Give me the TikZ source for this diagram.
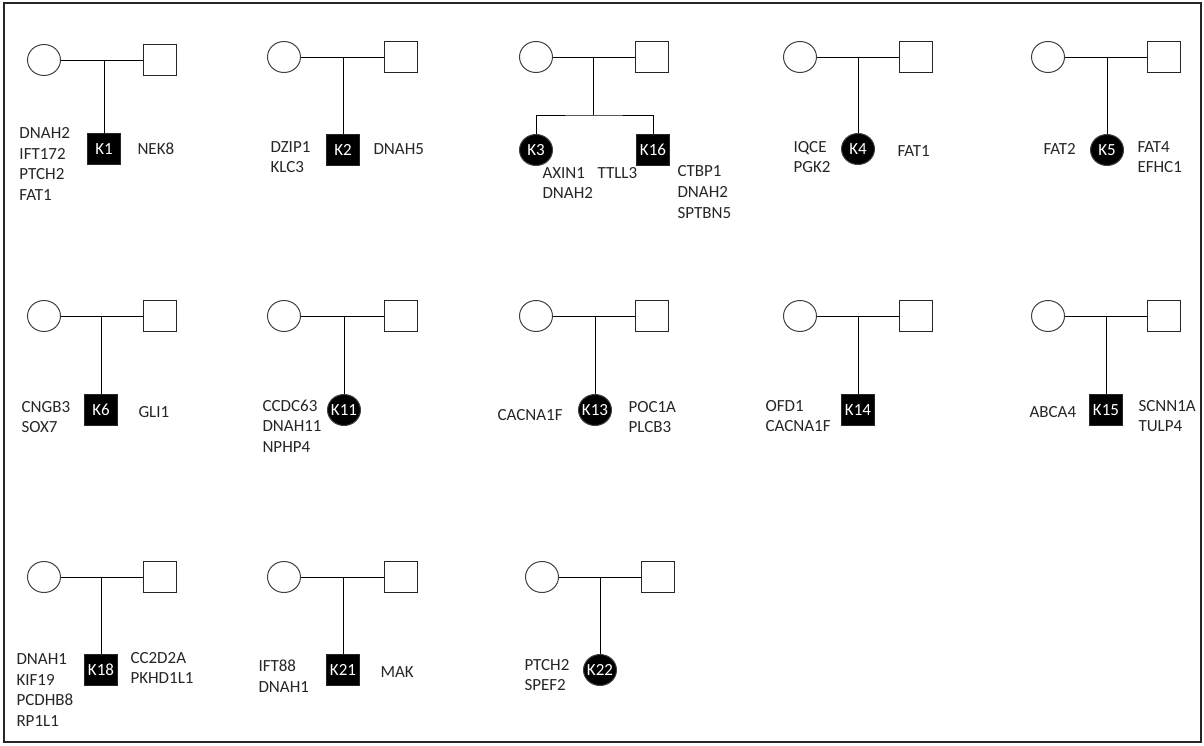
\documentclass[tikz,border=0pt]{standalone}
\usepackage{fontspec}
\setmainfont{Carlito}
\usetikzlibrary{shapes.geometric,positioning}
\newcommand{\genefont}{\fontsize{17}{20.7}\selectfont}
\newcommand{\kid}[1]{\makebox[0pt]{#1}}

\begin{document}
\begin{tikzpicture}[x=1pt, y=-1pt, line width=1pt,
    female/.style={draw=black!75, ellipse, minimum width=33pt, minimum height=31pt, inner sep=0pt},
    male/.style={draw=black!85, rectangle, minimum width=33pt, minimum height=31pt, inner sep=0pt},
    affected/.style={fill=black, text=white, font=\genefont},
    gene/.style={align=left, inner sep=0pt, anchor=west, font=\genefont, text=black!85}
]
\useasboundingbox (0,0) rectangle (1204,745);
\draw[line width=1.6pt, black!85] (4,3) rectangle (1201,742);

% row 1
\node[female] (m1) at (44,60) {};
\node[male] (d1) at (160,60) {};
\node[male, affected] (k1) at (104,149) {\kid{K1}};
\node[gene] (k1l) at (19,164) {DNAH2\\IFT172\\PTCH2\\FAT1};
\node[gene] (k1r) at (137,149) {NEK8};

\node[female] (m2) at (284,57) {};
\node[male] (d2) at (401,57) {};
\node[male, affected] (k2) at (343,150) {\kid{K2}};
\node[gene] (k2l) at (270,157) {DZIP1\\KLC3};
\node[gene] (k2r) at (373,149) {DNAH5};

\node[female] (m3) at (536,57) {};
\node[male] (d3) at (652,57) {};
\coordinate (s3) at (593,115);
\node[female, affected] (k3) at (536,150) {\kid{K3}};
\node[male, affected] (k16) at (653,150) {\kid{K16}};
\node[gene] (k3l) at (542,183) {AXIN1\\DNAH2};
\node[gene] (k3r) at (597,173) {TTLL3};
\node[gene] (k16r) at (677,192) {CTBP1\\DNAH2\\SPTBN5};

\node[female] (m4) at (800,57) {};
\node[male] (d4) at (916,57) {};
\node[female, affected] (k4) at (858,149) {\kid{K4}};
\node[gene] (k4l) at (793,157) {IQCE\\PGK2};
\node[gene] (k4r) at (897,151) {FAT1};

\node[female] (m5) at (1048,57) {};
\node[male] (d5) at (1164,57) {};
\node[female, affected] (k5) at (1107,150) {\kid{K5}};
\node[gene] (k5l) at (1043,149) {FAT2};
\node[gene] (k5r) at (1137,157) {FAT4\\EFHC1};

% row 2
\node[female] (m6) at (44,316) {};
\node[male] (d6) at (160,316) {};
\node[male, affected] (k6) at (101,410) {\kid{K6}};
\node[gene] (k6l) at (21,417) {CNGB3\\SOX7};
\node[gene] (k6r) at (138,412) {GLI1};

\node[female] (m11) at (284,316) {};
\node[male] (d11) at (401,316) {};
\node[female, affected] (k11) at (344,410) {\kid{K11}};
\node[gene] (k11l) at (262,426) {CCDC63\\DNAH11\\NPHP4};

\node[female] (m13) at (536,316) {};
\node[male] (d13) at (652,316) {};
\node[female, affected] (k13) at (595,410) {\kid{K13}};
\node[gene] (k13l) at (497,415) {CACNA1F};
\node[gene] (k13r) at (628,417) {POC1A\\PLCB3};

\node[female] (m14) at (800,316) {};
\node[male] (d14) at (916,316) {};
\node[male, affected] (k14) at (858,410) {\kid{K14}};
\node[gene] (k14l) at (765,416) {OFD1\\CACNA1F};

\node[female] (m15) at (1048,316) {};
\node[male] (d15) at (1164,316) {};
\node[male, affected] (k15) at (1106,410) {\kid{K15}};
\node[gene] (k15l) at (1029,412) {ABCA4};
\node[gene] (k15r) at (1138,416) {SCNN1A\\TULP4};

% row 3
\node[female] (m18) at (44,577) {};
\node[male] (d18) at (160,577) {};
\node[male, affected] (k18) at (101,670) {\kid{K18}};
\node[gene] (k18l) at (16,690) {DNAH1\\KIF19\\PCDHB8\\RP1L1};
\node[gene] (k18r) at (130,668) {CC2D2A\\PKHD1L1};

\node[female] (m21) at (284,577) {};
\node[male] (d21) at (401,577) {};
\node[male, affected] (k21) at (343,670) {\kid{K21}};
\node[gene] (k21l) at (258,676) {IFT88\\DNAH1};
\node[gene] (k21r) at (380,672) {MAK};

\node[female] (m22) at (542,577) {};
\node[male] (d22) at (658,577) {};
\node[female, affected] (k22) at (600,670) {\kid{K22}};
\node[gene] (k22l) at (524,675) {PTCH2\\SPEF2};

% lines of descent
\draw (m1) -- (d1);  \draw (k1) -- (k1 |- m1);
\draw (m2) -- (d2);  \draw (k2) -- (k2 |- m2);
\draw (m3) -- (d3);  \draw (s3) -- (s3 |- m3);
\draw (k3) |- (s3) -| (k16);
\draw (m4) -- (d4);  \draw (k4) -- (k4 |- m4);
\draw (m5) -- (d5);  \draw (k5) -- (k5 |- m5);
\draw (m6) -- (d6);  \draw (k6) -- (k6 |- m6);
\draw (m11) -- (d11);  \draw (k11) -- (k11 |- m11);
\draw (m13) -- (d13);  \draw (k13) -- (k13 |- m13);
\draw (m14) -- (d14);  \draw (k14) -- (k14 |- m14);
\draw (m15) -- (d15);  \draw (k15) -- (k15 |- m15);
\draw (m18) -- (d18);  \draw (k18) -- (k18 |- m18);
\draw (m21) -- (d21);  \draw (k21) -- (k21 |- m21);
\draw (m22) -- (d22);  \draw (k22) -- (k22 |- m22);
\end{tikzpicture}
\end{document}
